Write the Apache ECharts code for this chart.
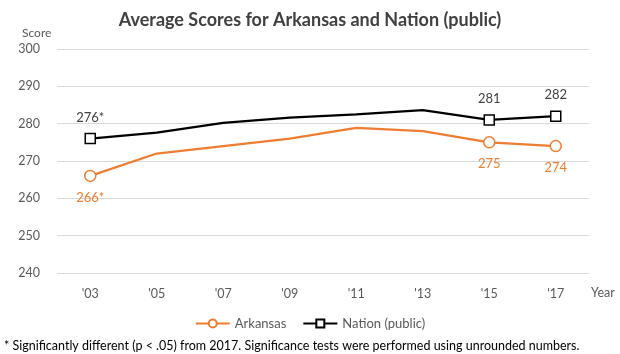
<!DOCTYPE html>
<html>
<head>
<meta charset="utf-8">
<script src="https://cdn.jsdelivr.net/npm/echarts@6/dist/echarts.min.js"></script>
<style>
  html, body { margin: 0; padding: 0; background: #fff; }
  #chart { width: 620px; height: 354px; }
</style>
</head>
<body>
<div id="chart"></div>
<script>
// Assessment years and average scores
const years = ["'03", "'05", "'07", "'09", "'11", "'13", "'15", "'17"];
const arkansas = [266, 272, 274, 276, 278.9, 278, 275, 274];
const nation = [276, 277.6, 280.2, 281.6, 282.5, 283.6, 281, 282];
// Years that get a marker and a value label; '*' marks significance vs 2017
const labeledIdx = [0, 6, 7];
const arkansasLabels = ['266*', '275', '274'];
const nationLabels = ['276*', '281', '282'];
const yTicks = [240, 250, 260, 270, 280, 290, 300];

const FONT = 'Lato, "Open Sans", sans-serif';
const ORANGE = '#ED7D31';

function buildData(values, labels, pos, color) {
  return values.map((v, i) => {
    const k = labeledIdx.indexOf(i);
    if (k < 0) return { value: v, symbol: 'none' };
    return {
      value: v,
      label: {
        show: true, position: pos, distance: 9,
        formatter: labels[k], color: color, fontSize: 13, fontFamily: FONT
      }
    };
  });
}

const chart = echarts.init(document.getElementById('chart'));
chart.setOption({
  animation: false,
  title: {
    text: 'Average Scores for Arkansas and Nation (public)',
    left: 'center', top: 6,
    textStyle: { fontFamily: FONT, fontSize: 18, fontWeight: 'bold', color: '#404040' }
  },
  grid: { left: 57, right: 31, top: 49, bottom: 81, containLabel: false },
  legend: {
    bottom: 19, left: 'center',
    itemWidth: 34, itemHeight: 10, itemGap: 16,
    textStyle: { fontFamily: FONT, fontSize: 13, color: '#595959' },
    data: ['Arkansas', 'Nation (public)']
  },
  xAxis: {
    type: 'category', data: years, boundaryGap: true,
    name: 'Year', nameLocation: 'end', nameGap: 2,
    nameTextStyle: { fontFamily: FONT, fontSize: 12.5, color: '#595959', verticalAlign: 'top', padding: [13, 0, 0, 0] },
    axisLine: { show: false }, axisTick: { show: false },
    axisLabel: { fontFamily: FONT, fontSize: 12.5, color: '#595959', margin: 14 }
  },
  yAxis: {
    type: 'value', min: yTicks[0], max: yTicks[yTicks.length - 1], interval: 10,
    name: 'Score', nameLocation: 'end', nameGap: 10,
    nameTextStyle: { fontFamily: FONT, fontSize: 12, color: '#595959', align: 'left', padding: [0, 0, 0, -35] },
    axisLine: { show: false }, axisTick: { show: false },
    axisLabel: { fontFamily: FONT, fontSize: 12.5, color: '#595959', margin: 17 },
    splitLine: { lineStyle: { color: '#d9d9d9', width: 1 } }
  },
  series: [
    {
      name: 'Arkansas', type: 'line',
      data: buildData(arkansas, arkansasLabels, 'bottom', ORANGE),
      symbol: 'circle', symbolSize: 11, showSymbol: true,
      lineStyle: { color: ORANGE, width: 2.25 },
      itemStyle: { color: '#fff', borderColor: ORANGE, borderWidth: 1.5 },
      z: 2
    },
    {
      name: 'Nation (public)', type: 'line',
      data: buildData(nation, nationLabels, 'top', '#404040'),
      symbol: 'rect', symbolSize: 10, showSymbol: true,
      lineStyle: { color: '#000', width: 2.25 },
      itemStyle: { color: '#fff', borderColor: '#000', borderWidth: 1.5 },
      z: 3
    }
  ],
  graphic: [{
    type: 'text', left: 4, top: 339,
    style: {
      text: '* Significantly different (p < .05) from 2017. Significance tests were performed using unrounded numbers.',
      fontFamily: FONT, fontSize: 12.5, fill: '#000'
    }
  }]
});
</script>
</body>
</html>
